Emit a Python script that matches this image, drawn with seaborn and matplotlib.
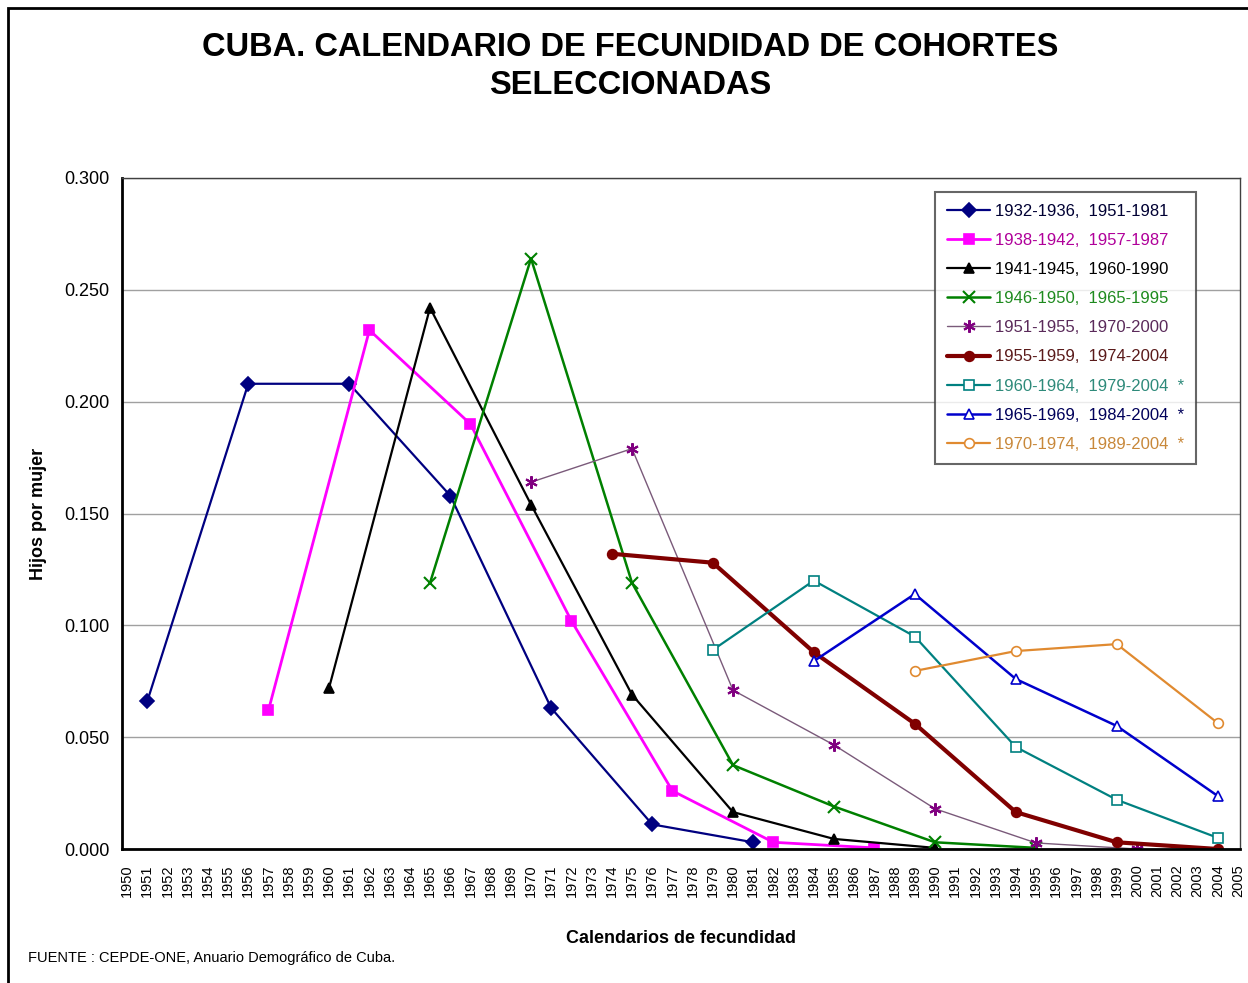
import numpy as np
import pandas as pd
import matplotlib
matplotlib.use('Agg')
import matplotlib.pyplot as plt
import seaborn as sns
from matplotlib.patches import Rectangle

# Cohort series: calendar years and children per woman
LABELS = [
    '1932-1936,  1951-1981',
    '1938-1942,  1957-1987',
    '1941-1945,  1960-1990',
    '1946-1950,  1965-1995',
    '1951-1955,  1970-2000',
    '1955-1959,  1974-2004',
    '1960-1964,  1979-2004  *',
    '1965-1969,  1984-2004  *',
    '1970-1974,  1989-2004  *',
]
YEARS_1 = [1951, 1956, 1961, 1966, 1971, 1976, 1981]
VALS_1 = [0.066, 0.208, 0.208, 0.158, 0.063, 0.011, 0.003]
YEARS_2 = [1957, 1962, 1967, 1972, 1977, 1982, 1987]
VALS_2 = [0.062, 0.232, 0.190, 0.102, 0.026, 0.003, 0.0005]
YEARS_3 = [1960, 1965, 1970, 1975, 1980, 1985, 1990]
VALS_3 = [0.072, 0.242, 0.154, 0.069, 0.0165, 0.0045, 0.0005]
YEARS_4 = [1965, 1970, 1975, 1980, 1985, 1990, 1995]
VALS_4 = [0.119, 0.264, 0.119, 0.0375, 0.019, 0.003, 0.0005]
YEARS_5 = [1970, 1975, 1980, 1985, 1990, 1995, 2000]
VALS_5 = [0.164, 0.179, 0.071, 0.0465, 0.018, 0.0027, 0.0]
YEARS_6 = [1974, 1979, 1984, 1989, 1994, 1999, 2004]
VALS_6 = [0.132, 0.128, 0.088, 0.056, 0.0165, 0.003, 0.0]
YEARS_7 = [1979, 1984, 1989, 1994, 1999, 2004]
VALS_7 = [0.089, 0.120, 0.095, 0.0456, 0.022, 0.005]
YEARS_8 = [1984, 1989, 1994, 1999, 2004]
VALS_8 = [0.084, 0.114, 0.076, 0.055, 0.0237]
YEARS_9 = [1989, 1994, 1999, 2004]
VALS_9 = [0.0796, 0.0885, 0.0916, 0.0563]

YEAR_TICKS = list(range(1950, 2006))
Y_TICKS = [0.0, 0.05, 0.10, 0.15, 0.20, 0.25, 0.30]

# (line color, marker color, marker, marker filled, linewidth, text color)
STYLES = [
    ('#000080', '#000080', 'D', True, 1.6, '#000033'),
    ('#FF00FF', '#FF00FF', 's', True, 2.0, '#B0009A'),
    ('#000000', '#000000', '^', True, 1.6, '#000000'),
    ('#008000', '#008000', 'x', True, 1.8, '#1E8A1E'),
    ('#7A5A7A', '#800080', (6, 2, 0), True, 1.0, '#5A2A5A'),
    ('#800000', '#800000', 'o', True, 3.0, '#5A1A1A'),
    ('#008080', '#008080', 's', False, 1.6, '#2E8A7A'),
    ('#0000CC', '#0000CC', '^', False, 1.8, '#00005A'),
    ('#E08A30', '#E08A30', 'o', False, 1.6, '#C8883A'),
]

series = [
    (YEARS_1, VALS_1), (YEARS_2, VALS_2), (YEARS_3, VALS_3),
    (YEARS_4, VALS_4), (YEARS_5, VALS_5), (YEARS_6, VALS_6),
    (YEARS_7, VALS_7), (YEARS_8, VALS_8), (YEARS_9, VALS_9),
]

sns.set_style('white')
plt.rcParams['font.family'] = ['Liberation Sans', 'DejaVu Sans']
plt.rcParams['text.color'] = 'black'
plt.rcParams['axes.labelcolor'] = 'black'
plt.rcParams['xtick.color'] = 'black'
plt.rcParams['ytick.color'] = 'black'

fig = plt.figure(figsize=(12.48, 9.83), dpi=100)
ax = fig.add_axes([122 / 1248, 1 - 849 / 983, (1240 - 122) / 1248, (849 - 178) / 983])

handles = []
for (yrs, vals), label, st in zip(series, LABELS, STYLES):
    lc, mc, mk, filled, lw, _ = st
    df = pd.DataFrame({'year': yrs, 'value': vals})
    sns.lineplot(data=df, x='year', y='value', ax=ax, color=lc, linewidth=lw,
                 marker=mk, markersize=9 if mk in ('x', (6, 2, 0)) else 7,
                 markerfacecolor=mc if filled else 'white',
                 markeredgecolor=mc, markeredgewidth=1.5 if mk in ('x', (6, 2, 0)) else 1.2,
                 label=label, legend=False)
    handles.append(ax.lines[-1])

ax.set_xlim(1949.75, 2005.1)
ax.set_ylim(0, 0.3)
ax.set_xticks(YEAR_TICKS)
ax.set_xticklabels([str(y) for y in YEAR_TICKS], rotation=90, fontsize=10.5)
ax.set_yticks(Y_TICKS)
ax.set_yticklabels([f'{v:.3f}' for v in Y_TICKS], fontsize=13)
ax.tick_params(axis='x', direction='out', length=5, width=1, color='black', pad=6)
ax.tick_params(axis='y', direction='out', length=5, width=1, color='black', pad=4)
ax.yaxis.grid(True, color='#A0A0A0', linewidth=1)
ax.set_axisbelow(True)
for side in ['left', 'bottom']:
    ax.spines[side].set_color('black')
    ax.spines[side].set_linewidth(2)
for side in ['top', 'right']:
    ax.spines[side].set_color('#404040')
    ax.spines[side].set_linewidth(1)

ax.set_xlabel('Calendarios de fecundidad', fontsize=13, fontweight='bold', labelpad=24)
ax.set_ylabel('Hijos por mujer', fontsize=13, fontweight='bold', labelpad=12)

leg = ax.legend(handles=handles, labels=LABELS, loc='upper right',
                bbox_to_anchor=((1196 - 122) / (1240 - 122), (849 - 192) / (849 - 178)),
                fontsize=12, frameon=True, fancybox=False, edgecolor='#404040',
                handlelength=2.6, handletextpad=0.3, labelspacing=0.85,
                borderpad=0.7, borderaxespad=0)
leg.get_frame().set_linewidth(1.5)
for txt, st in zip(leg.get_texts(), STYLES):
    txt.set_color(st[5])

fig.text(0.505, 1 - 48 / 983, 'CUBA. CALENDARIO DE FECUNDIDAD DE COHORTES',
         ha='center', va='center', fontsize=23.5, fontweight='bold')
fig.text(0.505, 1 - 86 / 983, 'SELECCIONADAS',
         ha='center', va='center', fontsize=23.5, fontweight='bold')
fig.text(28 / 1248, 1 - 958 / 983, 'FUENTE : CEPDE-ONE, Anuario Demográfico de Cuba.',
         ha='left', va='center', fontsize=10.5)

# outer chart frame
fig.patches.append(Rectangle((8 / 1248, -0.01), 1.1, 1 - 8 / 983 + 0.01,
                             transform=fig.transFigure, fill=False,
                             edgecolor='black', linewidth=2))

fig.savefig('out.png', dpi=100)
